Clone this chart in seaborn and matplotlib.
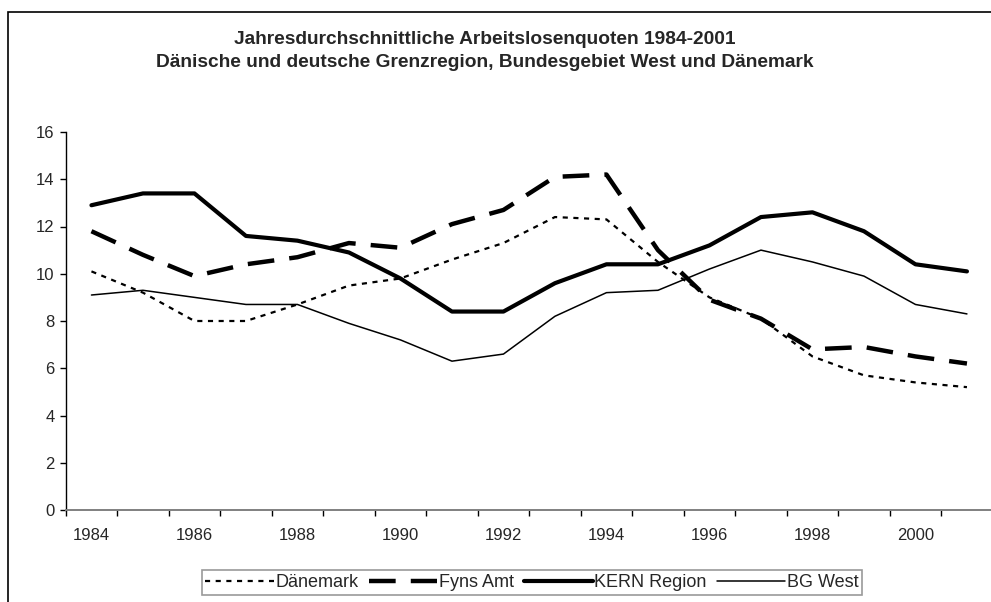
import matplotlib
matplotlib.use('Agg')
import matplotlib.pyplot as plt
from matplotlib.patches import Rectangle
import seaborn as sns
import pandas as pd

years = list(range(1984, 2002))

daenemark = [10.1, 9.2, 8.0, 8.0, 8.7, 9.5, 9.8, 10.6, 11.3, 12.4, 12.3, 10.5,
             9.0, 8.1, 6.5, 5.7, 5.4, 5.2]
fyns_amt = [11.8, 10.8, 9.9, 10.4, 10.7, 11.3, 11.1, 12.1, 12.7, 14.1, 14.2, 11.0,
            8.9, 8.1, 6.8, 6.9, 6.5, 6.2]
kern_region = [12.9, 13.4, 13.4, 11.6, 11.4, 10.9, 9.8, 8.4, 8.4, 9.6, 10.4, 10.4,
               11.2, 12.4, 12.6, 11.8, 10.4, 10.1]
bg_west = [9.1, 9.3, 9.0, 8.7, 8.7, 7.9, 7.2, 6.3, 6.6, 8.2, 9.2, 9.3,
           10.2, 11.0, 10.5, 9.9, 8.7, 8.3]

series_names = ["Dänemark", "Fyns Amt", "KERN Region", "BG West"]
title = ("Jahresdurchschnittliche Arbeitslosenquoten 1984-2001\n"
         "Dänische und deutsche Grenzregion, Bundesgebiet West und Dänemark")

df = pd.DataFrame({"Jahr": years,
                   "Dänemark": daenemark,
                   "Fyns Amt": fyns_amt,
                   "KERN Region": kern_region,
                   "BG West": bg_west})
long = df.melt(id_vars="Jahr", var_name="Reihe", value_name="Quote")

sns.set_style("white")
plt.rcParams['font.family'] = ['Liberation Sans', 'DejaVu Sans']

fig = plt.figure(figsize=(9.91, 6.02), dpi=100)
ax = fig.add_axes([65.7 / 991, 1 - 510 / 602, 927 / 991, 378 / 602])

# line styles per series (black only, like the original)
styles = {
    "Dänemark": dict(lw=1.6, ls=(0, (2.3, 2.5))),
    "Fyns Amt": dict(lw=3.2, ls=(0, (6.0, 3.4))),
    "KERN Region": dict(lw=3.0, ls="-"),
    "BG West": dict(lw=1.1, ls="-"),
}
for name in series_names:
    sub = long[long["Reihe"] == name]
    sns.lineplot(data=sub, x="Jahr", y="Quote", ax=ax, color="black",
                 linewidth=styles[name]["lw"], linestyle=styles[name]["ls"],
                 label=name, legend=False)

ax.set_xlim(1983.5, 2001.5)
ax.set_ylim(0, 16)
ax.set_yticks(range(0, 17, 2))
ax.set_xticks(years[::2])
ax.set_xticklabels([str(y) for y in years[::2]])
ax.set_xticks([y - 0.5 for y in years] + [2001.5], minor=True)
ax.tick_params(axis="x", which="major", length=0, pad=13, labelsize=12)
ax.tick_params(axis="x", which="minor", length=4, width=1, color="black",
               direction="out", bottom=True)
ax.tick_params(axis="y", length=4, width=1, color="black", direction="out",
               left=True, labelsize=12, pad=4)
ax.set_xlabel("")
ax.set_ylabel("")
for side in ["top", "right"]:
    ax.spines[side].set_visible(False)
ax.spines["left"].set_color("black")
ax.spines["left"].set_linewidth(1)
ax.spines["bottom"].set_color("#808080")
ax.spines["bottom"].set_linewidth(1.4)

fig.text(484.5 / 991, 1 - 51 / 602, title, ha="center", va="center",
         fontsize=13.8, fontweight="bold", linespacing=1.42)

handles, labels = ax.get_legend_handles_labels()
leg = fig.legend(handles, labels, loc="center", ncol=4,
                 bbox_to_anchor=(532 / 991, 1 - 582.5 / 602), fontsize=13,
                 frameon=True, fancybox=False, edgecolor="#808080",
                 handlelength=3.8, handletextpad=0.1, columnspacing=0.55,
                 borderpad=0.2, borderaxespad=0)
leg.get_frame().set_linewidth(1.2)

# outer chart border (cut off at right and bottom like the original)
fig.patches.append(Rectangle((8 / 991, -0.1), 1.2, 1 - 12 / 602 + 0.1,
                             transform=fig.transFigure, fill=False,
                             edgecolor="black", linewidth=1.2, clip_on=False))

fig.savefig("out.png", dpi=100)
